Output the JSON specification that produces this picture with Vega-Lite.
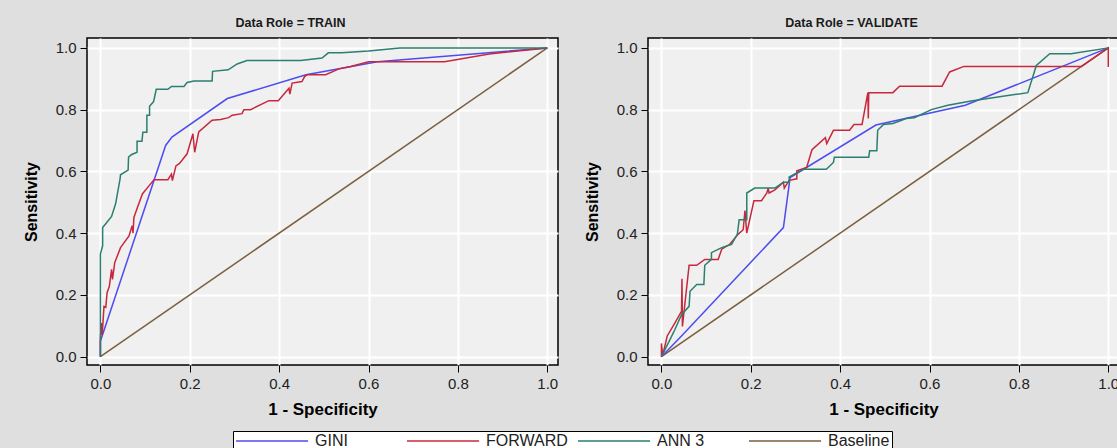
{
  "$schema": "https://vega.github.io/schema/vega-lite/v6.json",
  "background": "#dfdfdf",
  "padding": {"left": 22, "top": 15, "right": 0, "bottom": 0},
  "datasets": {
    "roc": [
      {"role": "TRAIN", "model": "Baseline", "i": 0, "fpr": 0, "tpr": 0},
      {"role": "TRAIN", "model": "Baseline", "i": 1, "fpr": 1, "tpr": 1},
      {"role": "VALIDATE", "model": "Baseline", "i": 0, "fpr": 0, "tpr": 0},
      {"role": "VALIDATE", "model": "Baseline", "i": 1, "fpr": 1, "tpr": 1},

      {"role": "TRAIN", "model": "GINI", "i": 0, "fpr": 0, "tpr": 0},
      {"role": "TRAIN", "model": "GINI", "i": 1, "fpr": 0, "tpr": 0.05},
      {"role": "TRAIN", "model": "GINI", "i": 2, "fpr": 0.146, "tpr": 0.684},
      {"role": "TRAIN", "model": "GINI", "i": 3, "fpr": 0.16, "tpr": 0.711},
      {"role": "TRAIN", "model": "GINI", "i": 4, "fpr": 0.284, "tpr": 0.836},
      {"role": "TRAIN", "model": "GINI", "i": 5, "fpr": 0.46, "tpr": 0.913},
      {"role": "TRAIN", "model": "GINI", "i": 6, "fpr": 0.62, "tpr": 0.955},
      {"role": "TRAIN", "model": "GINI", "i": 7, "fpr": 1, "tpr": 1},

      {"role": "TRAIN", "model": "FORWARD", "i": 0, "fpr": 0, "tpr": 0},
      {"role": "TRAIN", "model": "FORWARD", "i": 1, "fpr": 0, "tpr": 0.06},
      {"role": "TRAIN", "model": "FORWARD", "i": 2, "fpr": 0.002, "tpr": 0.109},
      {"role": "TRAIN", "model": "FORWARD", "i": 3, "fpr": 0.004, "tpr": 0.07},
      {"role": "TRAIN", "model": "FORWARD", "i": 4, "fpr": 0.008, "tpr": 0.163},
      {"role": "TRAIN", "model": "FORWARD", "i": 5, "fpr": 0.012, "tpr": 0.16},
      {"role": "TRAIN", "model": "FORWARD", "i": 6, "fpr": 0.015, "tpr": 0.207},
      {"role": "TRAIN", "model": "FORWARD", "i": 7, "fpr": 0.02, "tpr": 0.228},
      {"role": "TRAIN", "model": "FORWARD", "i": 8, "fpr": 0.025, "tpr": 0.283},
      {"role": "TRAIN", "model": "FORWARD", "i": 9, "fpr": 0.027, "tpr": 0.25},
      {"role": "TRAIN", "model": "FORWARD", "i": 10, "fpr": 0.032, "tpr": 0.304},
      {"role": "TRAIN", "model": "FORWARD", "i": 11, "fpr": 0.045, "tpr": 0.353},
      {"role": "TRAIN", "model": "FORWARD", "i": 12, "fpr": 0.064, "tpr": 0.391},
      {"role": "TRAIN", "model": "FORWARD", "i": 13, "fpr": 0.071, "tpr": 0.424},
      {"role": "TRAIN", "model": "FORWARD", "i": 14, "fpr": 0.073, "tpr": 0.4},
      {"role": "TRAIN", "model": "FORWARD", "i": 15, "fpr": 0.075, "tpr": 0.451},
      {"role": "TRAIN", "model": "FORWARD", "i": 16, "fpr": 0.083, "tpr": 0.484},
      {"role": "TRAIN", "model": "FORWARD", "i": 17, "fpr": 0.094, "tpr": 0.527},
      {"role": "TRAIN", "model": "FORWARD", "i": 18, "fpr": 0.109, "tpr": 0.554},
      {"role": "TRAIN", "model": "FORWARD", "i": 19, "fpr": 0.12, "tpr": 0.573},
      {"role": "TRAIN", "model": "FORWARD", "i": 20, "fpr": 0.151, "tpr": 0.573},
      {"role": "TRAIN", "model": "FORWARD", "i": 21, "fpr": 0.159, "tpr": 0.591},
      {"role": "TRAIN", "model": "FORWARD", "i": 22, "fpr": 0.161, "tpr": 0.57},
      {"role": "TRAIN", "model": "FORWARD", "i": 23, "fpr": 0.169, "tpr": 0.618},
      {"role": "TRAIN", "model": "FORWARD", "i": 24, "fpr": 0.177, "tpr": 0.626},
      {"role": "TRAIN", "model": "FORWARD", "i": 25, "fpr": 0.194, "tpr": 0.657},
      {"role": "TRAIN", "model": "FORWARD", "i": 26, "fpr": 0.207, "tpr": 0.722},
      {"role": "TRAIN", "model": "FORWARD", "i": 27, "fpr": 0.211, "tpr": 0.662},
      {"role": "TRAIN", "model": "FORWARD", "i": 28, "fpr": 0.22, "tpr": 0.728},
      {"role": "TRAIN", "model": "FORWARD", "i": 29, "fpr": 0.25, "tpr": 0.766},
      {"role": "TRAIN", "model": "FORWARD", "i": 30, "fpr": 0.269, "tpr": 0.768},
      {"role": "TRAIN", "model": "FORWARD", "i": 31, "fpr": 0.287, "tpr": 0.774},
      {"role": "TRAIN", "model": "FORWARD", "i": 32, "fpr": 0.295, "tpr": 0.782},
      {"role": "TRAIN", "model": "FORWARD", "i": 33, "fpr": 0.317, "tpr": 0.787},
      {"role": "TRAIN", "model": "FORWARD", "i": 34, "fpr": 0.321, "tpr": 0.8},
      {"role": "TRAIN", "model": "FORWARD", "i": 35, "fpr": 0.336, "tpr": 0.8},
      {"role": "TRAIN", "model": "FORWARD", "i": 36, "fpr": 0.377, "tpr": 0.829},
      {"role": "TRAIN", "model": "FORWARD", "i": 37, "fpr": 0.398, "tpr": 0.829},
      {"role": "TRAIN", "model": "FORWARD", "i": 38, "fpr": 0.422, "tpr": 0.869},
      {"role": "TRAIN", "model": "FORWARD", "i": 39, "fpr": 0.424, "tpr": 0.85},
      {"role": "TRAIN", "model": "FORWARD", "i": 40, "fpr": 0.429, "tpr": 0.886},
      {"role": "TRAIN", "model": "FORWARD", "i": 41, "fpr": 0.451, "tpr": 0.891},
      {"role": "TRAIN", "model": "FORWARD", "i": 42, "fpr": 0.457, "tpr": 0.907},
      {"role": "TRAIN", "model": "FORWARD", "i": 43, "fpr": 0.463, "tpr": 0.913},
      {"role": "TRAIN", "model": "FORWARD", "i": 44, "fpr": 0.504, "tpr": 0.913},
      {"role": "TRAIN", "model": "FORWARD", "i": 45, "fpr": 0.534, "tpr": 0.932},
      {"role": "TRAIN", "model": "FORWARD", "i": 46, "fpr": 0.56, "tpr": 0.94},
      {"role": "TRAIN", "model": "FORWARD", "i": 47, "fpr": 0.6, "tpr": 0.955},
      {"role": "TRAIN", "model": "FORWARD", "i": 48, "fpr": 0.77, "tpr": 0.955},
      {"role": "TRAIN", "model": "FORWARD", "i": 49, "fpr": 0.87, "tpr": 0.98},
      {"role": "TRAIN", "model": "FORWARD", "i": 50, "fpr": 1, "tpr": 1},

      {"role": "TRAIN", "model": "ANN 3", "i": 0, "fpr": 0, "tpr": 0},
      {"role": "TRAIN", "model": "ANN 3", "i": 1, "fpr": 0, "tpr": 0.332},
      {"role": "TRAIN", "model": "ANN 3", "i": 2, "fpr": 0.005, "tpr": 0.359},
      {"role": "TRAIN", "model": "ANN 3", "i": 3, "fpr": 0.005, "tpr": 0.418},
      {"role": "TRAIN", "model": "ANN 3", "i": 4, "fpr": 0.011, "tpr": 0.429},
      {"role": "TRAIN", "model": "ANN 3", "i": 5, "fpr": 0.025, "tpr": 0.454},
      {"role": "TRAIN", "model": "ANN 3", "i": 6, "fpr": 0.034, "tpr": 0.495},
      {"role": "TRAIN", "model": "ANN 3", "i": 7, "fpr": 0.044, "tpr": 0.576},
      {"role": "TRAIN", "model": "ANN 3", "i": 8, "fpr": 0.045, "tpr": 0.589},
      {"role": "TRAIN", "model": "ANN 3", "i": 9, "fpr": 0.062, "tpr": 0.604},
      {"role": "TRAIN", "model": "ANN 3", "i": 10, "fpr": 0.063, "tpr": 0.646},
      {"role": "TRAIN", "model": "ANN 3", "i": 11, "fpr": 0.069, "tpr": 0.654},
      {"role": "TRAIN", "model": "ANN 3", "i": 12, "fpr": 0.082, "tpr": 0.662},
      {"role": "TRAIN", "model": "ANN 3", "i": 13, "fpr": 0.082, "tpr": 0.698},
      {"role": "TRAIN", "model": "ANN 3", "i": 14, "fpr": 0.093, "tpr": 0.698},
      {"role": "TRAIN", "model": "ANN 3", "i": 15, "fpr": 0.095, "tpr": 0.727},
      {"role": "TRAIN", "model": "ANN 3", "i": 16, "fpr": 0.104, "tpr": 0.727},
      {"role": "TRAIN", "model": "ANN 3", "i": 17, "fpr": 0.104, "tpr": 0.782},
      {"role": "TRAIN", "model": "ANN 3", "i": 18, "fpr": 0.11, "tpr": 0.782},
      {"role": "TRAIN", "model": "ANN 3", "i": 19, "fpr": 0.11, "tpr": 0.811},
      {"role": "TRAIN", "model": "ANN 3", "i": 20, "fpr": 0.119, "tpr": 0.826},
      {"role": "TRAIN", "model": "ANN 3", "i": 21, "fpr": 0.125, "tpr": 0.866},
      {"role": "TRAIN", "model": "ANN 3", "i": 22, "fpr": 0.151, "tpr": 0.866},
      {"role": "TRAIN", "model": "ANN 3", "i": 23, "fpr": 0.159, "tpr": 0.875},
      {"role": "TRAIN", "model": "ANN 3", "i": 24, "fpr": 0.187, "tpr": 0.875},
      {"role": "TRAIN", "model": "ANN 3", "i": 25, "fpr": 0.194, "tpr": 0.888},
      {"role": "TRAIN", "model": "ANN 3", "i": 26, "fpr": 0.209, "tpr": 0.893},
      {"role": "TRAIN", "model": "ANN 3", "i": 27, "fpr": 0.25, "tpr": 0.893},
      {"role": "TRAIN", "model": "ANN 3", "i": 28, "fpr": 0.251, "tpr": 0.924},
      {"role": "TRAIN", "model": "ANN 3", "i": 29, "fpr": 0.286, "tpr": 0.929},
      {"role": "TRAIN", "model": "ANN 3", "i": 30, "fpr": 0.306, "tpr": 0.948},
      {"role": "TRAIN", "model": "ANN 3", "i": 31, "fpr": 0.328, "tpr": 0.959},
      {"role": "TRAIN", "model": "ANN 3", "i": 32, "fpr": 0.448, "tpr": 0.959},
      {"role": "TRAIN", "model": "ANN 3", "i": 33, "fpr": 0.496, "tpr": 0.967},
      {"role": "TRAIN", "model": "ANN 3", "i": 34, "fpr": 0.51, "tpr": 0.984},
      {"role": "TRAIN", "model": "ANN 3", "i": 35, "fpr": 0.54, "tpr": 0.984},
      {"role": "TRAIN", "model": "ANN 3", "i": 36, "fpr": 0.6, "tpr": 0.99},
      {"role": "TRAIN", "model": "ANN 3", "i": 37, "fpr": 0.67, "tpr": 1},
      {"role": "TRAIN", "model": "ANN 3", "i": 38, "fpr": 1, "tpr": 1},

      {"role": "VALIDATE", "model": "GINI", "i": 0, "fpr": 0, "tpr": 0},
      {"role": "VALIDATE", "model": "GINI", "i": 1, "fpr": 0.045, "tpr": 0.067},
      {"role": "VALIDATE", "model": "GINI", "i": 2, "fpr": 0.273, "tpr": 0.418},
      {"role": "VALIDATE", "model": "GINI", "i": 3, "fpr": 0.288, "tpr": 0.58},
      {"role": "VALIDATE", "model": "GINI", "i": 4, "fpr": 0.48, "tpr": 0.75},
      {"role": "VALIDATE", "model": "GINI", "i": 5, "fpr": 0.68, "tpr": 0.814},
      {"role": "VALIDATE", "model": "GINI", "i": 6, "fpr": 1, "tpr": 1},

      {"role": "VALIDATE", "model": "FORWARD", "i": 0, "fpr": 0, "tpr": 0},
      {"role": "VALIDATE", "model": "FORWARD", "i": 1, "fpr": 0, "tpr": 0.043},
      {"role": "VALIDATE", "model": "FORWARD", "i": 2, "fpr": 0.003, "tpr": 0.005},
      {"role": "VALIDATE", "model": "FORWARD", "i": 3, "fpr": 0.013, "tpr": 0.067},
      {"role": "VALIDATE", "model": "FORWARD", "i": 4, "fpr": 0.03, "tpr": 0.109},
      {"role": "VALIDATE", "model": "FORWARD", "i": 5, "fpr": 0.045, "tpr": 0.147},
      {"role": "VALIDATE", "model": "FORWARD", "i": 6, "fpr": 0.046, "tpr": 0.252},
      {"role": "VALIDATE", "model": "FORWARD", "i": 7, "fpr": 0.047, "tpr": 0.098},
      {"role": "VALIDATE", "model": "FORWARD", "i": 8, "fpr": 0.062, "tpr": 0.296},
      {"role": "VALIDATE", "model": "FORWARD", "i": 9, "fpr": 0.079, "tpr": 0.296},
      {"role": "VALIDATE", "model": "FORWARD", "i": 10, "fpr": 0.097, "tpr": 0.315},
      {"role": "VALIDATE", "model": "FORWARD", "i": 11, "fpr": 0.127, "tpr": 0.315},
      {"role": "VALIDATE", "model": "FORWARD", "i": 12, "fpr": 0.135, "tpr": 0.348},
      {"role": "VALIDATE", "model": "FORWARD", "i": 13, "fpr": 0.153, "tpr": 0.364},
      {"role": "VALIDATE", "model": "FORWARD", "i": 14, "fpr": 0.172, "tpr": 0.397},
      {"role": "VALIDATE", "model": "FORWARD", "i": 15, "fpr": 0.183, "tpr": 0.411},
      {"role": "VALIDATE", "model": "FORWARD", "i": 16, "fpr": 0.187, "tpr": 0.473},
      {"role": "VALIDATE", "model": "FORWARD", "i": 17, "fpr": 0.191, "tpr": 0.4},
      {"role": "VALIDATE", "model": "FORWARD", "i": 18, "fpr": 0.207, "tpr": 0.505},
      {"role": "VALIDATE", "model": "FORWARD", "i": 19, "fpr": 0.224, "tpr": 0.505},
      {"role": "VALIDATE", "model": "FORWARD", "i": 20, "fpr": 0.236, "tpr": 0.53},
      {"role": "VALIDATE", "model": "FORWARD", "i": 21, "fpr": 0.239, "tpr": 0.546},
      {"role": "VALIDATE", "model": "FORWARD", "i": 22, "fpr": 0.241, "tpr": 0.53},
      {"role": "VALIDATE", "model": "FORWARD", "i": 23, "fpr": 0.254, "tpr": 0.54},
      {"role": "VALIDATE", "model": "FORWARD", "i": 24, "fpr": 0.273, "tpr": 0.565},
      {"role": "VALIDATE", "model": "FORWARD", "i": 25, "fpr": 0.275, "tpr": 0.546},
      {"role": "VALIDATE", "model": "FORWARD", "i": 26, "fpr": 0.286, "tpr": 0.571},
      {"role": "VALIDATE", "model": "FORWARD", "i": 27, "fpr": 0.303, "tpr": 0.576},
      {"role": "VALIDATE", "model": "FORWARD", "i": 28, "fpr": 0.303, "tpr": 0.602},
      {"role": "VALIDATE", "model": "FORWARD", "i": 29, "fpr": 0.325, "tpr": 0.613},
      {"role": "VALIDATE", "model": "FORWARD", "i": 30, "fpr": 0.337, "tpr": 0.67},
      {"role": "VALIDATE", "model": "FORWARD", "i": 31, "fpr": 0.367, "tpr": 0.709},
      {"role": "VALIDATE", "model": "FORWARD", "i": 32, "fpr": 0.37, "tpr": 0.69},
      {"role": "VALIDATE", "model": "FORWARD", "i": 33, "fpr": 0.385, "tpr": 0.733},
      {"role": "VALIDATE", "model": "FORWARD", "i": 34, "fpr": 0.421, "tpr": 0.733},
      {"role": "VALIDATE", "model": "FORWARD", "i": 35, "fpr": 0.431, "tpr": 0.752},
      {"role": "VALIDATE", "model": "FORWARD", "i": 36, "fpr": 0.449, "tpr": 0.752},
      {"role": "VALIDATE", "model": "FORWARD", "i": 37, "fpr": 0.462, "tpr": 0.855},
      {"role": "VALIDATE", "model": "FORWARD", "i": 38, "fpr": 0.463, "tpr": 0.771},
      {"role": "VALIDATE", "model": "FORWARD", "i": 39, "fpr": 0.464, "tpr": 0.855},
      {"role": "VALIDATE", "model": "FORWARD", "i": 40, "fpr": 0.518, "tpr": 0.855},
      {"role": "VALIDATE", "model": "FORWARD", "i": 41, "fpr": 0.533, "tpr": 0.876},
      {"role": "VALIDATE", "model": "FORWARD", "i": 42, "fpr": 0.628, "tpr": 0.876},
      {"role": "VALIDATE", "model": "FORWARD", "i": 43, "fpr": 0.645, "tpr": 0.922},
      {"role": "VALIDATE", "model": "FORWARD", "i": 44, "fpr": 0.677, "tpr": 0.94},
      {"role": "VALIDATE", "model": "FORWARD", "i": 45, "fpr": 0.94, "tpr": 0.94},
      {"role": "VALIDATE", "model": "FORWARD", "i": 46, "fpr": 1, "tpr": 1},
      {"role": "VALIDATE", "model": "FORWARD", "i": 47, "fpr": 1, "tpr": 0.938},

      {"role": "VALIDATE", "model": "ANN 3", "i": 0, "fpr": 0, "tpr": 0},
      {"role": "VALIDATE", "model": "ANN 3", "i": 1, "fpr": 0.015, "tpr": 0.043},
      {"role": "VALIDATE", "model": "ANN 3", "i": 2, "fpr": 0.03, "tpr": 0.087},
      {"role": "VALIDATE", "model": "ANN 3", "i": 3, "fpr": 0.045, "tpr": 0.136},
      {"role": "VALIDATE", "model": "ANN 3", "i": 4, "fpr": 0.062, "tpr": 0.163},
      {"role": "VALIDATE", "model": "ANN 3", "i": 5, "fpr": 0.064, "tpr": 0.212},
      {"role": "VALIDATE", "model": "ANN 3", "i": 6, "fpr": 0.079, "tpr": 0.234},
      {"role": "VALIDATE", "model": "ANN 3", "i": 7, "fpr": 0.095, "tpr": 0.234},
      {"role": "VALIDATE", "model": "ANN 3", "i": 8, "fpr": 0.097, "tpr": 0.296},
      {"role": "VALIDATE", "model": "ANN 3", "i": 9, "fpr": 0.112, "tpr": 0.315},
      {"role": "VALIDATE", "model": "ANN 3", "i": 10, "fpr": 0.112, "tpr": 0.337},
      {"role": "VALIDATE", "model": "ANN 3", "i": 11, "fpr": 0.135, "tpr": 0.353},
      {"role": "VALIDATE", "model": "ANN 3", "i": 12, "fpr": 0.157, "tpr": 0.364},
      {"role": "VALIDATE", "model": "ANN 3", "i": 13, "fpr": 0.17, "tpr": 0.397},
      {"role": "VALIDATE", "model": "ANN 3", "i": 14, "fpr": 0.174, "tpr": 0.443},
      {"role": "VALIDATE", "model": "ANN 3", "i": 15, "fpr": 0.191, "tpr": 0.443},
      {"role": "VALIDATE", "model": "ANN 3", "i": 16, "fpr": 0.191, "tpr": 0.53},
      {"role": "VALIDATE", "model": "ANN 3", "i": 17, "fpr": 0.209, "tpr": 0.546},
      {"role": "VALIDATE", "model": "ANN 3", "i": 18, "fpr": 0.254, "tpr": 0.546},
      {"role": "VALIDATE", "model": "ANN 3", "i": 19, "fpr": 0.273, "tpr": 0.565},
      {"role": "VALIDATE", "model": "ANN 3", "i": 20, "fpr": 0.286, "tpr": 0.565},
      {"role": "VALIDATE", "model": "ANN 3", "i": 21, "fpr": 0.286, "tpr": 0.582},
      {"role": "VALIDATE", "model": "ANN 3", "i": 22, "fpr": 0.318, "tpr": 0.607},
      {"role": "VALIDATE", "model": "ANN 3", "i": 23, "fpr": 0.369, "tpr": 0.607},
      {"role": "VALIDATE", "model": "ANN 3", "i": 24, "fpr": 0.385, "tpr": 0.629},
      {"role": "VALIDATE", "model": "ANN 3", "i": 25, "fpr": 0.387, "tpr": 0.646},
      {"role": "VALIDATE", "model": "ANN 3", "i": 26, "fpr": 0.464, "tpr": 0.646},
      {"role": "VALIDATE", "model": "ANN 3", "i": 27, "fpr": 0.466, "tpr": 0.667},
      {"role": "VALIDATE", "model": "ANN 3", "i": 28, "fpr": 0.482, "tpr": 0.667},
      {"role": "VALIDATE", "model": "ANN 3", "i": 29, "fpr": 0.484, "tpr": 0.733},
      {"role": "VALIDATE", "model": "ANN 3", "i": 30, "fpr": 0.497, "tpr": 0.752},
      {"role": "VALIDATE", "model": "ANN 3", "i": 31, "fpr": 0.518, "tpr": 0.755},
      {"role": "VALIDATE", "model": "ANN 3", "i": 32, "fpr": 0.548, "tpr": 0.771},
      {"role": "VALIDATE", "model": "ANN 3", "i": 33, "fpr": 0.566, "tpr": 0.774},
      {"role": "VALIDATE", "model": "ANN 3", "i": 34, "fpr": 0.604, "tpr": 0.8},
      {"role": "VALIDATE", "model": "ANN 3", "i": 35, "fpr": 0.641, "tpr": 0.814},
      {"role": "VALIDATE", "model": "ANN 3", "i": 36, "fpr": 0.693, "tpr": 0.828},
      {"role": "VALIDATE", "model": "ANN 3", "i": 37, "fpr": 0.82, "tpr": 0.855},
      {"role": "VALIDATE", "model": "ANN 3", "i": 38, "fpr": 0.839, "tpr": 0.943},
      {"role": "VALIDATE", "model": "ANN 3", "i": 39, "fpr": 0.869, "tpr": 0.981},
      {"role": "VALIDATE", "model": "ANN 3", "i": 40, "fpr": 0.917, "tpr": 0.981},
      {"role": "VALIDATE", "model": "ANN 3", "i": 41, "fpr": 1, "tpr": 1}
    ]
  },
  "data": {"name": "roc"},
  "spacing": 90,
  "bounds": "flush",
  "hconcat": [
    {
      "title": {"text": "Data Role = TRAIN"},
      "transform": [{"filter": "datum.role == 'TRAIN'"}],
      "width": 471,
      "height": 327,
      "mark": {"type": "line", "strokeWidth": 1.5, "clip": true},
      "encoding": {
        "x": {
          "field": "fpr", "type": "quantitative",
          "scale": {"domain": [-0.03, 1.024], "nice": false, "zero": false},
          "axis": {"values": [0, 0.2, 0.4, 0.6, 0.8, 1], "format": ".1f", "title": "1 - Specificity"}
        },
        "y": {
          "field": "tpr", "type": "quantitative",
          "scale": {"domain": [-0.027, 1.032], "nice": false, "zero": false},
          "axis": {"values": [0, 0.2, 0.4, 0.6, 0.8, 1], "format": ".1f", "title": "Sensitivity"}
        },
        "color": {
          "field": "model", "type": "nominal",
          "scale": {"domain": ["GINI", "FORWARD", "ANN 3", "Baseline"], "range": ["#4c4cf0", "#c8283c", "#2a7f6f", "#7d5e3e"]},
          "legend": {"title": null, "orient": "none", "legendX": 146, "legendY": 393}
        },
        "order": {"field": "i", "type": "quantitative"}
      }
    },
    {
      "title": {"text": "Data Role = VALIDATE"},
      "transform": [{"filter": "datum.role == 'VALIDATE'"}],
      "width": 471,
      "height": 327,
      "mark": {"type": "line", "strokeWidth": 1.5, "clip": true},
      "encoding": {
        "x": {
          "field": "fpr", "type": "quantitative",
          "scale": {"domain": [-0.03, 1.024], "nice": false, "zero": false},
          "axis": {"values": [0, 0.2, 0.4, 0.6, 0.8, 1], "format": ".1f", "title": "1 - Specificity"}
        },
        "y": {
          "field": "tpr", "type": "quantitative",
          "scale": {"domain": [-0.027, 1.032], "nice": false, "zero": false},
          "axis": {"values": [0, 0.2, 0.4, 0.6, 0.8, 1], "format": ".1f", "title": "Sensitivity"}
        },
        "color": {
          "field": "model", "type": "nominal",
          "scale": {"domain": ["GINI", "FORWARD", "ANN 3", "Baseline"], "range": ["#4c4cf0", "#c8283c", "#2a7f6f", "#7d5e3e"]},
          "legend": {"title": null, "orient": "none", "legendX": 146, "legendY": 393}
        },
        "order": {"field": "i", "type": "quantitative"}
      }
    }
  ],
  "config": {
    "view": {"fill": "#f0f0f0", "stroke": "#000000", "strokeWidth": 1.5},
    "title": {
      "font": "Liberation Sans",
      "fontSize": 12.5,
      "fontWeight": "bold",
      "color": "#1a1a1a",
      "anchor": "middle",
      "frame": "bounds",
      "offset": 9
    },
    "axis": {
      "grid": true,
      "gridColor": "#ffffff",
      "gridWidth": 2,
      "domain": false,
      "tickColor": "#000000",
      "tickSize": 7,
      "labelPadding": 4,
      "labelFont": "Liberation Sans",
      "labelFontSize": 15,
      "labelColor": "#222222",
      "titleFont": "Liberation Sans",
      "titleFontSize": 16,
      "titleFontWeight": "bold",
      "titleColor": "#000000"
    },
    "axisX": {"titlePadding": 10, "titleFontSize": 17},
    "axisY": {"titlePadding": 16},
    "legend": {
      "direction": "horizontal",
      "columns": 4,
      "gridAlign": "all",
      "symbolType": "M-1,0H9.3",
      "symbolSize": 196,
      "symbolStrokeWidth": 1.5,
      "labelFont": "Liberation Sans",
      "labelFontSize": 16,
      "labelColor": "#222222",
      "labelOffset": 64,
      "columnPadding": 7,
      "fillColor": "#ffffff",
      "strokeColor": "#000000",
      "padding": 2
    }
  }
}
